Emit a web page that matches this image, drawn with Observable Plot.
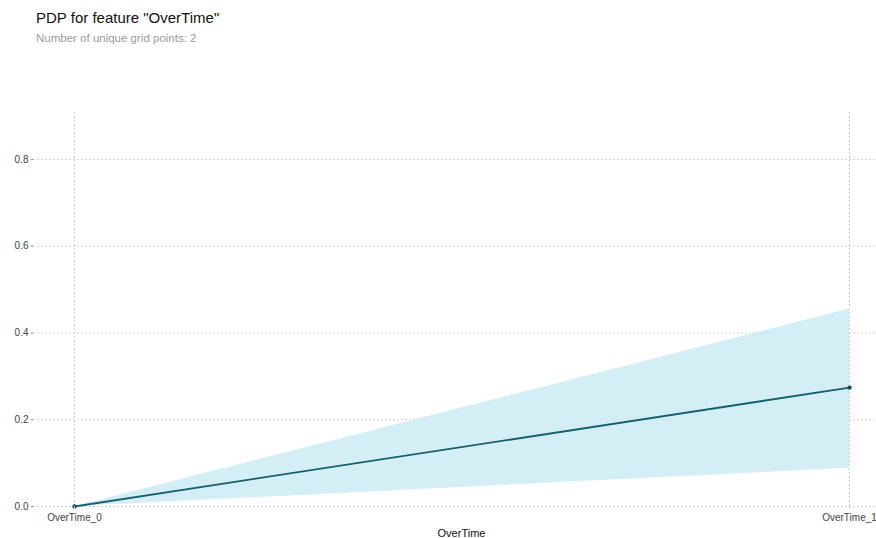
<!DOCTYPE html>
<html>
<head>
<meta charset="utf-8">
<script src="https://cdn.jsdelivr.net/npm/d3@7"></script>
<script src="https://cdn.jsdelivr.net/npm/@observablehq/plot@0.6"></script>
<style>
  body { margin: 0; background: #fff; font-family: "Liberation Sans", Arial, sans-serif; }
  #wrap { width: 876px; height: 538px; position: relative; }
  #head { height: 55px; position: relative; }
  #title { position: absolute; left: 36px; top: 9px; font-size: 15px; color: #111; }
  #subtitle { position: absolute; left: 36px; top: 32px; font-size: 11.5px; color: #9a9a9a; }
</style>
</head>
<body>
<div id="wrap">
  <div id="head">
    <div id="title">PDP for feature "OverTime"</div>
    <div id="subtitle">Number of unique grid points: 2</div>
  </div>
  <div id="chart"></div>
</div>
<script>
const categories = ["OverTime_0", "OverTime_1"];
const pdpValues = [0, 0.274];
const upperValues = [0, 0.455];
const lowerValues = [0, 0.088];
const yTicks = [0, 0.2, 0.4, 0.6, 0.8];
const xLabel = "OverTime";

const data = categories.map((c, i) => ({cat: c, pdp: pdpValues[i], hi: upperValues[i], lo: lowerValues[i]}));

const chart = Plot.plot({
  width: 876,
  height: 483,
  marginLeft: 33,
  marginRight: 0,
  marginTop: 57,
  marginBottom: 32,
  style: {fontFamily: "'Liberation Sans', Arial, sans-serif", fontSize: "10px", color: "#444", background: "#fff"},
  x: {type: "point", domain: categories, range: [74, 849], padding: 0},
  y: {domain: [0, 0.908], range: [451, 57]},
  marks: [
    Plot.gridY(yTicks, {stroke: "#bdbdbd", strokeOpacity: 1, strokeDasharray: "2,2", strokeWidth: 0.7}),
    Plot.gridX(categories, {stroke: "#bdbdbd", strokeOpacity: 1, strokeDasharray: "2,2", strokeWidth: 0.7}),
    Plot.areaY(data, {x: "cat", y1: "lo", y2: "hi", fill: "#c4e8f0", fillOpacity: 0.75}),
    Plot.lineY(data, {x: "cat", y: "pdp", stroke: "#17606e", strokeWidth: 1.8}),
    Plot.dot(data, {x: "cat", y: "pdp", r: 2.2, fill: "#0f4f5c", stroke: "none"}),
    Plot.axisY(yTicks, {tickFormat: d3.format(".1f"), tickSize: 2, tickPadding: 3, stroke: "#888", fill: "#444", fontSize: 10, label: null}),
    Plot.axisX(categories, {tickSize: 3, tickPadding: 4, stroke: "#ccc", fill: "#444", fontSize: 10, label: null})
  ]
});
document.getElementById("chart").appendChild(chart);
const svg = d3.select(chart);
svg.append("text")
  .attr("x", (74 + 849) / 2)
  .attr("y", 482)
  .attr("text-anchor", "middle")
  .attr("font-size", 11)
  .attr("fill", "#111")
  .text(xLabel);
</script>
</body>
</html>
